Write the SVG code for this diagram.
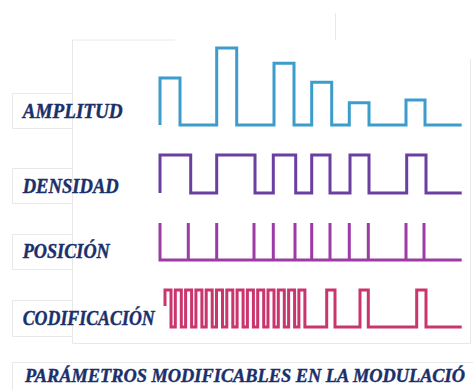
<svg xmlns="http://www.w3.org/2000/svg" width="473" height="390" viewBox="0 0 473 390">
<style>
.frame{fill:none;stroke:#e8e8e8;stroke-width:1}
.wave{fill:none;stroke-width:3;stroke-linejoin:miter;stroke-linecap:butt}
.lbl{font-family:"Liberation Serif","Times New Roman",serif;font-weight:bold;font-style:italic;font-size:20px;fill:#1b2f6b;stroke:#1b2f6b;stroke-width:0.4}
.ttl{font-size:18px}
</style>
<rect width="473" height="390" fill="#ffffff"/>
<g id="frames">
<path class="frame" d="M335.5,13V40 M72.5,40H175 M72.5,40V343.5H470.5V59"/>
<path class="frame" d="M72,93.5H12.5V128.5H72 M72,168.5H12.5V203.5H72 M72,234.5H12.5V269.5H72 M72,300.5H12.5V336.5H72"/>
<path class="frame" d="M12.5,390V362.5H473"/>
</g>
<g id="amplitud">
<path class="wave" stroke="#3c9ccb" d="M160,125V78H180V125H216.7V48H236.7V125H274V63.3H294V125H311.7V82.3H331.7V125H349.3V102.7H369V125H406V100H425V125H461.7"/>
<text class="lbl" x="22.7" y="118.3" textLength="100" lengthAdjust="spacingAndGlyphs">AMPLITUD</text>
</g>
<g id="densidad">
<path class="wave" stroke="#6b3fa0" d="M160,193V155H190.7V193H216.7V155H255V193H273.3V155H295.7V193H311.7V155H330V193H350V155H369V193H406.7V155H426V193H461.7"/>
<text class="lbl" x="22.7" y="193.3" textLength="96" lengthAdjust="spacingAndGlyphs">DENSIDAD</text>
</g>
<g id="posicion">
<path class="wave" stroke="#9c3ba5" d="M160,223V260 M188.3,223V260 M216.7,223V260 M254,223V260 M273.3,223V260 M295,223V260 M311.7,223V260 M330,223V260 M349.3,223V260 M368.3,223V260 M406,223V260 M424,223V260 M158.5,260H461.7"/>
<text class="lbl" x="22.7" y="258.3" textLength="87" lengthAdjust="spacingAndGlyphs">POSICIÓN</text>
</g>
<g id="codificacion">
<path class="wave" stroke="#c9356c" d="M165,306V290H171V327H175.3V290H181.3V327H185.6V290H191.6V327H195.9V290H201.9V327H206.2V290H212.2V327H216.5V290H222.5V327H226.8V290H232.8V327H237.1V290H243.1V327H247.4V290H253.4V327H257.7V290H263.7V327H268V290H274V327H278.3V290H284.3V327H288.6V290H294.6V327H298.9V290H304.9V327H326.7V290H335V327H360V290H368.3V327H416.7V290H426V327H461.7"/>
<text class="lbl" x="22.7" y="325" textLength="132" lengthAdjust="spacingAndGlyphs">CODIFICACIÓN</text>
</g>
<g id="titulo">
<text class="lbl ttl" x="25" y="382" textLength="440" lengthAdjust="spacingAndGlyphs">PARÁMETROS MODIFICABLES EN LA MODULACIÓ</text>
</g>
</svg>
